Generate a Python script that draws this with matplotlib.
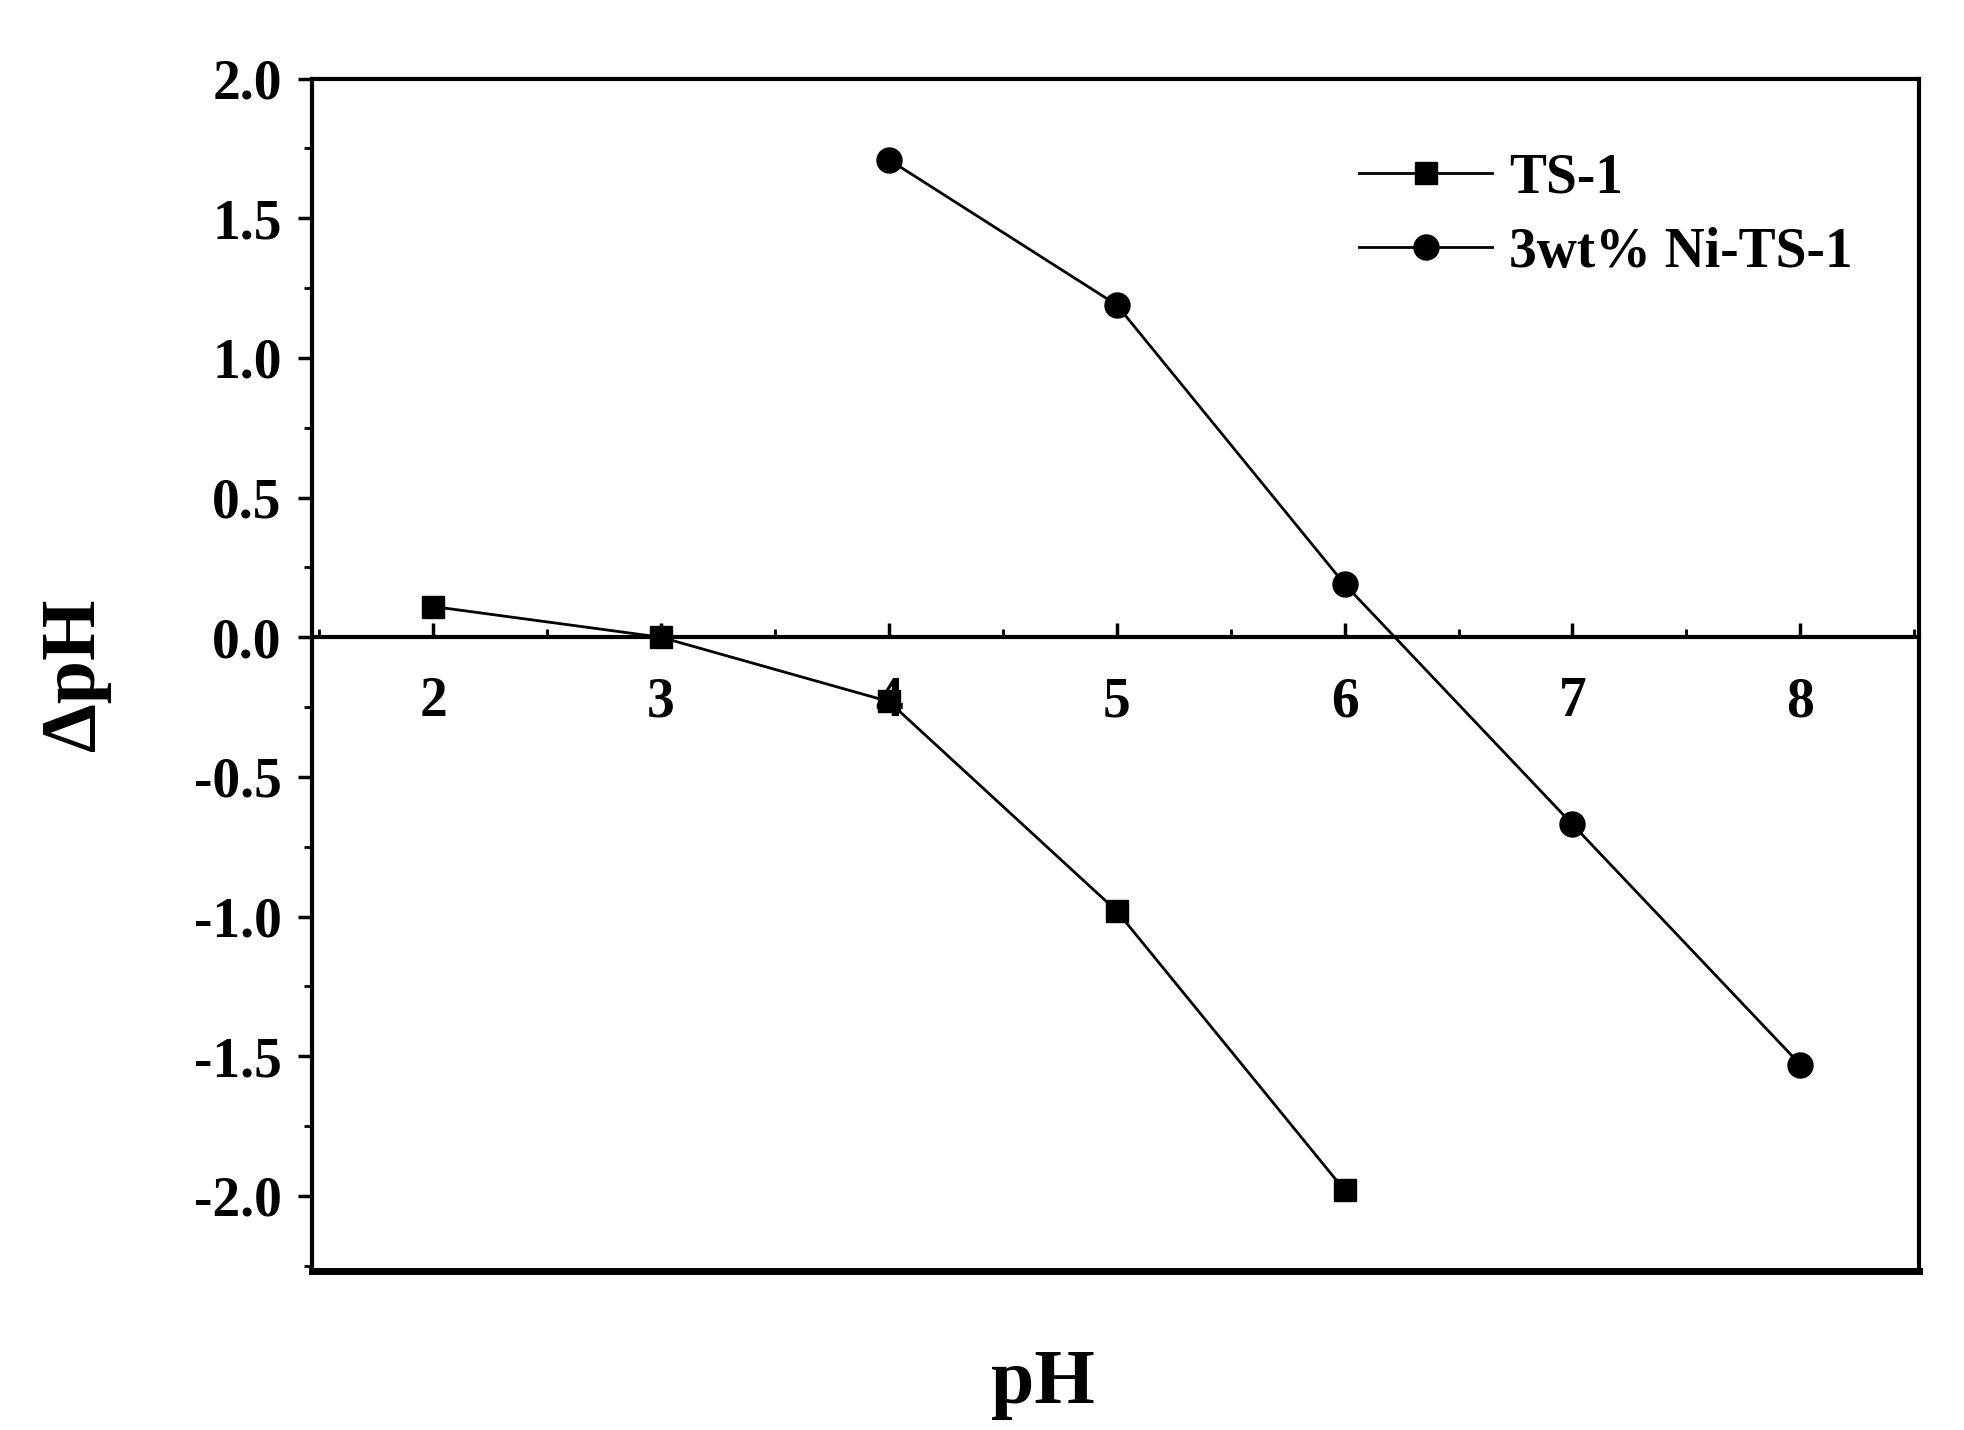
import matplotlib
matplotlib.use("Agg")
import matplotlib.pyplot as plt
from matplotlib.ticker import MultipleLocator

ts1_x = [2, 3, 4, 5, 6]
ts1_y = [0.11, 0.0, -0.23, -0.98, -1.98]
ni_x = [4, 5, 6, 7, 8]
ni_y = [1.71, 1.19, 0.19, -0.67, -1.53]
xticks = [2, 3, 4, 5, 6, 7, 8]
yticks = [-2.0, -1.5, -1.0, -0.5, 0.0, 0.5, 1.0, 1.5, 2.0]

plt.rcParams['font.family'] = ['Liberation Serif', 'DejaVu Serif']
plt.rcParams['font.weight'] = 'bold'

fig = plt.figure(figsize=(19.64, 14.30), dpi=100)
ax = fig.add_axes([0.159, 0.111, 0.818, 0.834])
ax.plot(ts1_x, ts1_y, 'k-s', lw=2, ms=16, label='TS-1')
ax.plot(ni_x, ni_y, 'k-o', lw=2, ms=18, label='3wt% Ni-TS-1')
ax.set_xlim(1.47, 8.52)
ax.set_ylim(-2.27, 2.0)
ax.spines['bottom'].set_position(('data', 0))
for s in ax.spines.values():
    s.set_linewidth(3)
ax.axhline(-2.27, color='k', lw=5, clip_on=False)
ax.set_xticks(xticks)
ax.set_yticks(yticks)
ax.set_yticklabels([f"{v:.1f}" for v in yticks])
ax.xaxis.set_minor_locator(MultipleLocator(0.5))
ax.yaxis.set_minor_locator(MultipleLocator(0.25))
ax.tick_params(which='major', direction='out', length=10, width=2.5, labelsize=40, pad=12)
ax.tick_params(which='minor', direction='out', length=6, width=2)
ax.tick_params(axis='x', which='both', direction='in', pad=28)
for lab in ax.get_xticklabels() + ax.get_yticklabels():
    lab.set_fontweight('bold')
ax.set_xlabel('pH', fontsize=56, fontweight='bold')
ax.xaxis.set_label_coords(0.455, -0.065)
ax.set_ylabel('ΔpH', fontsize=56, fontweight='bold')
ax.yaxis.set_label_coords(-0.125, 0.5)
leg = ax.legend(loc='upper right', bbox_to_anchor=(0.99, 0.98), frameon=False,
                prop={'size': 40, 'weight': 'bold'}, handlelength=2.4, labelspacing=0.4,
                handletextpad=0.3)
fig.savefig('out.png', dpi=100, facecolor='white')
